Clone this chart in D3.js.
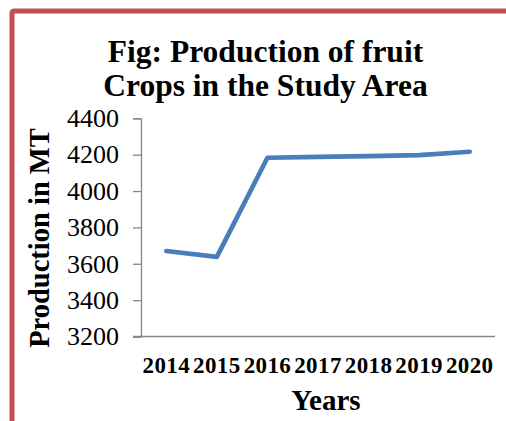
<!DOCTYPE html>
<html>
<head>
<meta charset="utf-8">
<script src="https://cdn.jsdelivr.net/npm/d3@7"></script>
<style>
  html, body { margin: 0; padding: 0; background: #fff; }
  svg { display: block; }
  text { font-family: "Liberation Serif", "Times New Roman", serif; }
</style>
</head>
<body>
<script>
const years = ["2014", "2015", "2016", "2017", "2018", "2019", "2020"];
const production = [3670, 3638, 4183, 4188, 4192, 4198, 4216];
const yTicks = [3200, 3400, 3600, 3800, 4000, 4200, 4400];
const titleLines = ["Fig: Production of fruit", "Crops in the Study Area"];
const xTitle = "Years";
const yTitle = "Production in MT";

const W = 506, H = 421;
const serif = '"Liberation Serif", "Times New Roman", serif';
const svg = d3.select("body").append("svg").attr("width", W).attr("height", H);

// frame (red border, left/top)
svg.append("rect")
  .attr("x", 12).attr("y", 11)
  .attr("width", W + 20).attr("height", H + 20)
  .attr("rx", 2)
  .attr("fill", "#fff")
  .attr("stroke", "#c0504d")
  .attr("stroke-width", 5);

const plot = { left: 141, right: 495, top: 118.3, bottom: 336.5 };

const x = d3.scaleBand().domain(years).range([plot.left, plot.right]).padding(0);
const y = d3.scaleLinear().domain([3200, 4400]).range([plot.bottom, plot.top]);

// title
const title = svg.append("text")
  .attr("text-anchor", "middle")
  .style("font-family", serif)
  .style("font-weight", "bold")
  .style("font-size", "31.5px")
  .attr("fill", "#000");
titleLines.forEach((t, i) => {
  title.append("tspan").attr("x", 265.5).attr("y", 62 + i * 34).text(t);
});

// y axis
const yAxis = d3.axisLeft(y).tickValues(yTicks).tickSize(8).tickPadding(14).tickFormat(d3.format("d"));
const gy = svg.append("g").attr("transform", `translate(${plot.left},0)`).call(yAxis);
gy.select(".domain").attr("stroke", "#868686").attr("stroke-width", 1.3);
gy.selectAll(".tick line").attr("stroke", "#868686").attr("stroke-width", 1.3);
gy.selectAll(".tick text")
  .style("font-family", serif)
  .style("font-size", "26px")
  .attr("fill", "#000");

// x axis
const xAxis = d3.axisBottom(x).tickSize(0).tickPadding(20);
const gx = svg.append("g").attr("transform", `translate(0,${plot.bottom})`).call(xAxis);
gx.select(".domain").remove();
gx.append("line")
  .attr("x1", plot.left - 8).attr("x2", plot.right)
  .attr("y1", 0).attr("y2", 0)
  .attr("stroke", "#868686").attr("stroke-width", 1.3);
gx.selectAll(".tick text")
  .style("font-family", serif)
  .style("font-weight", "bold")
  .style("font-size", "23px")
  .style("letter-spacing", "0.4px")
  .attr("fill", "#000");

// axis titles
svg.append("text")
  .attr("x", 326).attr("y", 410)
  .attr("text-anchor", "middle")
  .style("font-family", serif)
  .style("font-weight", "bold")
  .style("font-size", "29px")
  .text(xTitle);

svg.append("text")
  .attr("transform", "translate(49,238) rotate(-90)")
  .attr("text-anchor", "middle")
  .style("font-family", serif)
  .style("font-weight", "bold")
  .style("font-size", "28.5px")
  .text(yTitle);

// line
const line = d3.line()
  .x((d, i) => x(years[i]) + x.bandwidth() / 2)
  .y(d => y(d));
svg.append("path")
  .datum(production)
  .attr("d", line)
  .attr("fill", "none")
  .attr("stroke", "#4a7ebb")
  .attr("stroke-width", 4.7)
  .attr("stroke-linejoin", "round")
  .attr("stroke-linecap", "round");
</script>
</body>
</html>
